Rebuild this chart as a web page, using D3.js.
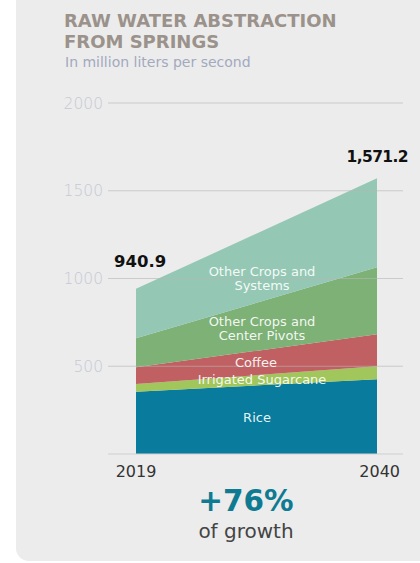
<!DOCTYPE html>
<html>
<head>
<meta charset="utf-8">
<script src="https://cdn.jsdelivr.net/npm/d3@7"></script>
<style>
  html, body { margin: 0; padding: 0; background: #ffffff; }
  svg { display: block; font-family: "DejaVu Sans", sans-serif; }
</style>
</head>
<body>
<svg id="chart" width="420" height="563"></svg>
<script>
// Raw water abstraction from springs, million liters per second
const years = [2019, 2040];
const categories = ["Rice", "Irrigated Sugarcane", "Coffee", "Other Crops and Center Pivots", "Other Crops and Systems"];
const rice        = [355, 426];
const sugarcane   = [44, 74];
const coffee      = [95, 182];
const pivots      = [165, 382];
const otherCrops  = [281.9, 507.2];
const totals      = [940.9, 1571.2];
const totalLabels = ["940.9", "1,571.2"];
const yTicks      = [2000, 1500, 1000, 500];
const growth      = "+76%";

const colors = {
  "Rice": "#097c9d",
  "Irrigated Sugarcane": "#a1c65b",
  "Coffee": "#c16062",
  "Other Crops and Center Pivots": "#7db176",
  "Other Crops and Systems": "#94c8b4"
};

const seriesValues = {
  "Rice": rice,
  "Irrigated Sugarcane": sugarcane,
  "Coffee": coffee,
  "Other Crops and Center Pivots": pivots,
  "Other Crops and Systems": otherCrops
};

const rows = years.map((yr, i) => {
  const r = { year: yr };
  categories.forEach(c => r[c] = seriesValues[c][i]);
  return r;
});

const svg = d3.select("#chart");

// card background with rounded bottom-left corner
svg.append("rect")
  .attr("x", 16).attr("y", -20)
  .attr("width", 440).attr("height", 581)
  .attr("rx", 13)
  .attr("fill", "#ececec");

const x = d3.scaleLinear().domain([2019, 2040]).range([136, 377]);
const y = d3.scaleLinear().domain([0, 2000]).range([454, 103]);

// titles
svg.append("text").attr("x", 64).attr("y", 27)
  .attr("font-size", 18).attr("font-weight", 700).attr("fill", "#9b928b")
  .text("RAW WATER ABSTRACTION");
svg.append("text").attr("x", 64).attr("y", 48)
  .attr("font-size", 18).attr("font-weight", 700).attr("fill", "#9b928b")
  .text("FROM SPRINGS");
svg.append("text").attr("x", 65).attr("y", 67)
  .attr("font-size", 14).attr("fill", "#a2a9bf")
  .text("In million liters per second");

// stacked areas
const stack = d3.stack().keys(categories);
const layers = stack(rows);
const area = d3.area()
  .x(d => x(d.data.year))
  .y0(d => y(d[0]))
  .y1(d => y(d[1]));

svg.append("g").selectAll("path")
  .data(layers)
  .join("path")
  .attr("d", area)
  .attr("fill", d => colors[d.key]);

// gridlines + tick labels
const grid = svg.append("g");
grid.selectAll("line.g")
  .data(yTicks)
  .join("line")
  .attr("class", "g")
  .attr("x1", 108).attr("x2", 403)
  .attr("y1", d => y(d)).attr("y2", d => y(d))
  .attr("stroke", "#b5b5b5").attr("stroke-opacity", 0.6).attr("stroke-width", 1.2);
grid.append("line")
  .attr("x1", 108).attr("x2", 403)
  .attr("y1", y(0)).attr("y2", y(0))
  .attr("stroke", "#cfcfcf").attr("stroke-width", 1);
grid.selectAll("text")
  .data(yTicks)
  .join("text")
  .attr("x", 103).attr("y", d => y(d) + 5.5)
  .attr("text-anchor", "end")
  .attr("font-size", 15.5).attr("font-weight", 300).attr("fill", "#c6c9d5")
  .text(d => d);

// x-axis year labels
svg.append("text").attr("x", x(2019)).attr("y", 477)
  .attr("text-anchor", "middle").attr("font-size", 16).attr("fill", "#333")
  .text("2019");
svg.append("text").attr("x", 400).attr("y", 477)
  .attr("text-anchor", "end").attr("font-size", 16).attr("fill", "#333")
  .text("2040");

// total labels
svg.append("text").attr("x", 114).attr("y", y(totals[0]) - 22)
  .attr("font-size", 16.5).attr("font-weight", 700).attr("fill", "#111")
  .text(totalLabels[0]);
svg.append("text").attr("x", 408).attr("y", y(totals[1]) - 16)
  .attr("text-anchor", "end").attr("letter-spacing", -0.6)
  .attr("font-size", 15.5).attr("font-weight", 700).attr("fill", "#111")
  .text(totalLabels[1]);

// series labels
const lbl = [
  { lines: ["Other Crops and", "Systems"], x: 262, y: 276 },
  { lines: ["Other Crops and", "Center Pivots"], x: 262, y: 326 },
  { lines: ["Coffee"], x: 256, y: 367 },
  { lines: ["Irrigated Sugarcane"], x: 262, y: 384 },
  { lines: ["Rice"], x: 257, y: 422 }
];
lbl.forEach(l => {
  const t = svg.append("text")
    .attr("text-anchor", "middle")
    .attr("font-size", 13).attr("fill", "#ffffff").attr("fill-opacity", 0.92);
  l.lines.forEach((s, i) => {
    t.append("tspan").attr("x", l.x).attr("y", l.y + i * 14.3).text(s);
  });
});

// growth callout
svg.append("text").attr("x", 246).attr("y", 511)
  .attr("text-anchor", "middle").attr("font-size", 29.5).attr("font-weight", 700)
  .attr("fill", "#0f7b92").text(growth);
svg.append("text").attr("x", 246).attr("y", 538)
  .attr("text-anchor", "middle").attr("font-size", 20).attr("fill", "#444")
  .text("of growth");
</script>
</body>
</html>
